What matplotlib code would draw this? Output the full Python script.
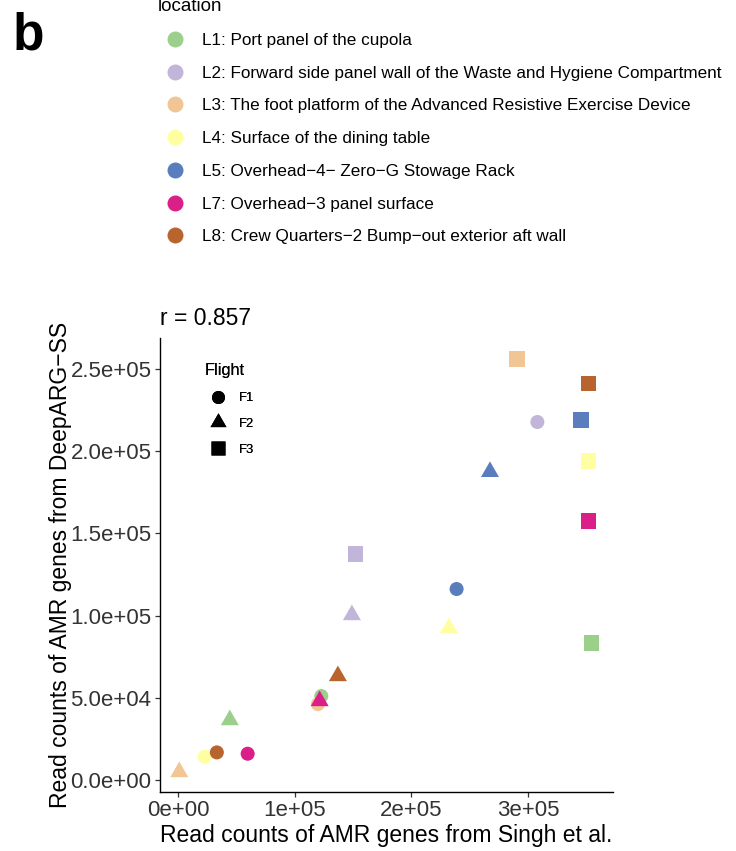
import numpy as np
import matplotlib
matplotlib.use("Agg")
import matplotlib.pyplot as plt
from matplotlib.lines import Line2D

plt.rcParams["font.family"] = ["Liberation Sans", "DejaVu Sans"]

# sampling locations on the ISS
locations = ["L1", "L2", "L3", "L4", "L5", "L7", "L8"]
location_labels = [
    "L1: Port panel of the cupola",
    "L2: Forward side panel wall of the Waste and Hygiene Compartment",
    "L3: The foot platform of the Advanced Resistive Exercise Device",
    "L4: Surface of the dining table",
    "L5: Overhead\u22124\u2212 Zero\u2212G Stowage Rack",
    "L7: Overhead\u22123 panel surface",
    "L8: Crew Quarters\u22122 Bump\u2212out exterior aft wall",
]
location_colors = ["#9BCF8B", "#C1B6D9", "#F2C595", "#FFFFA2", "#5A7DBD", "#DA2088", "#B8642F"]

flights = ["F1", "F2", "F3"]

# read counts (Singh et al. on x, DeepARG-SS on y), one entry per location
singh_f1 = [122800, 307900, 119900, 22800, 238700, 59700, 33300]
deeparg_f1 = [51100, 217800, 46200, 14200, 116200, 16000, 16800]
singh_f2 = [44400, 149000, 1100, 232200, 267300, 121400, 137000]
deeparg_f2 = [36500, 100400, 4900, 92500, 187500, 48100, 63300]
singh_f3 = [354100, 151900, 290600, 351900, 345300, 351600, 351900]
deeparg_f3 = [83200, 137500, 256100, 194000, 219000, 157500, 241300]

r_value = 0.857

x_ticks = [0, 100000, 200000, 300000]
x_tick_labels = ["0e+00", "1e+05", "2e+05", "3e+05"]
y_ticks = [0, 50000, 100000, 150000, 200000, 250000]
y_tick_labels = ["0.0e+00", "5.0e+04", "1.0e+05", "1.5e+05", "2.0e+05", "2.5e+05"]

# equilateral triangle centred on its centroid (like R's pch 17)
tri = [(0, 1), (-0.866, -0.5), (0.866, -0.5), (0, 1)]
shapes = {"F1": ("o", 102), "F2": (tri, 225), "F3": ("s", 125)}

fig = plt.figure(figsize=(7.36, 8.51), dpi=100)
W, H = 736, 851
ax = fig.add_axes([160 / W, 1 - 791.7 / H, 453 / W, 453.7 / H])

series = {"F1": (singh_f1, deeparg_f1), "F2": (singh_f2, deeparg_f2), "F3": (singh_f3, deeparg_f3)}
for f in flights:
    xs, ys = series[f]
    marker, size = shapes[f]
    ax.scatter(xs, ys, c=location_colors, marker=marker, s=size, linewidths=0, zorder=3)

ax.set_xlim(-15400, 372700)
ax.set_ylim(-7100, 268900)
ax.set_xticks(x_ticks, x_tick_labels)
ax.set_yticks(y_ticks, y_tick_labels)
ax.tick_params(axis="both", length=3.6, width=0.9, color="#333333", labelcolor="#333333",
               labelsize=16, pad=2.5)

for side in ["top", "right"]:
    ax.spines[side].set_visible(False)
for side in ["left", "bottom"]:
    ax.spines[side].set_linewidth(1.0)
    ax.spines[side].set_color("black")

ax.set_xlabel("Read counts of AMR genes from Singh et al.", fontsize=16.5, va="baseline")
ax.xaxis.set_label_coords(0.5, (791.7 - 842) / 453.7)
ax.set_ylabel("Read counts of AMR genes from DeepARG\u2212SS", fontsize=16.5, va="baseline")
ax.yaxis.set_label_coords((67 - 160) / 453, 0.5)

ax.text(0.0, 1 + 13 / 453.7, f"r = {r_value}", transform=ax.transAxes,
        fontsize=16.5, va="baseline", ha="left")

# flight legend (shape)
flight_handles = [
    Line2D([], [], ls="none", marker="o", ms=9.4, mfc="black", mec="none"),
    Line2D([], [], ls="none", marker=tri, ms=13.3, mfc="black", mec="none"),
    Line2D([], [], ls="none", marker="s", ms=9.4, mfc="black", mec="none"),
]
leg_f = ax.legend(flight_handles, flights, loc="upper left",
                  bbox_to_anchor=((205 - 160) / 453, (791.7 - 363.3) / 453.7),
                  frameon=False, title="Flight", title_fontsize=11.7, fontsize=9.4,
                  alignment="left", handlelength=1.95, handletextpad=0.66,
                  labelspacing=1.05, borderpad=0, borderaxespad=0)
ax.add_artist(leg_f)

# location legend (colour) above the panel
loc_handles = [Line2D([], [], ls="none", marker="o", ms=11.5, mfc=c, mec="none")
               for c in location_colors]
fig.legend(loc_handles, location_labels, loc="upper left",
           bbox_to_anchor=(158 / W, 1 + 2 / H), frameon=False, title="location",
           title_fontsize=13.5, fontsize=12.3, alignment="left", handlelength=2.0,
           handletextpad=0.58, labelspacing=1.04, borderpad=0, borderaxespad=0)

fig.text(13 / W, 1 - 50 / H, "b", fontsize=37, fontweight="bold", va="baseline", ha="left")

fig.savefig("out.png", dpi=100)
